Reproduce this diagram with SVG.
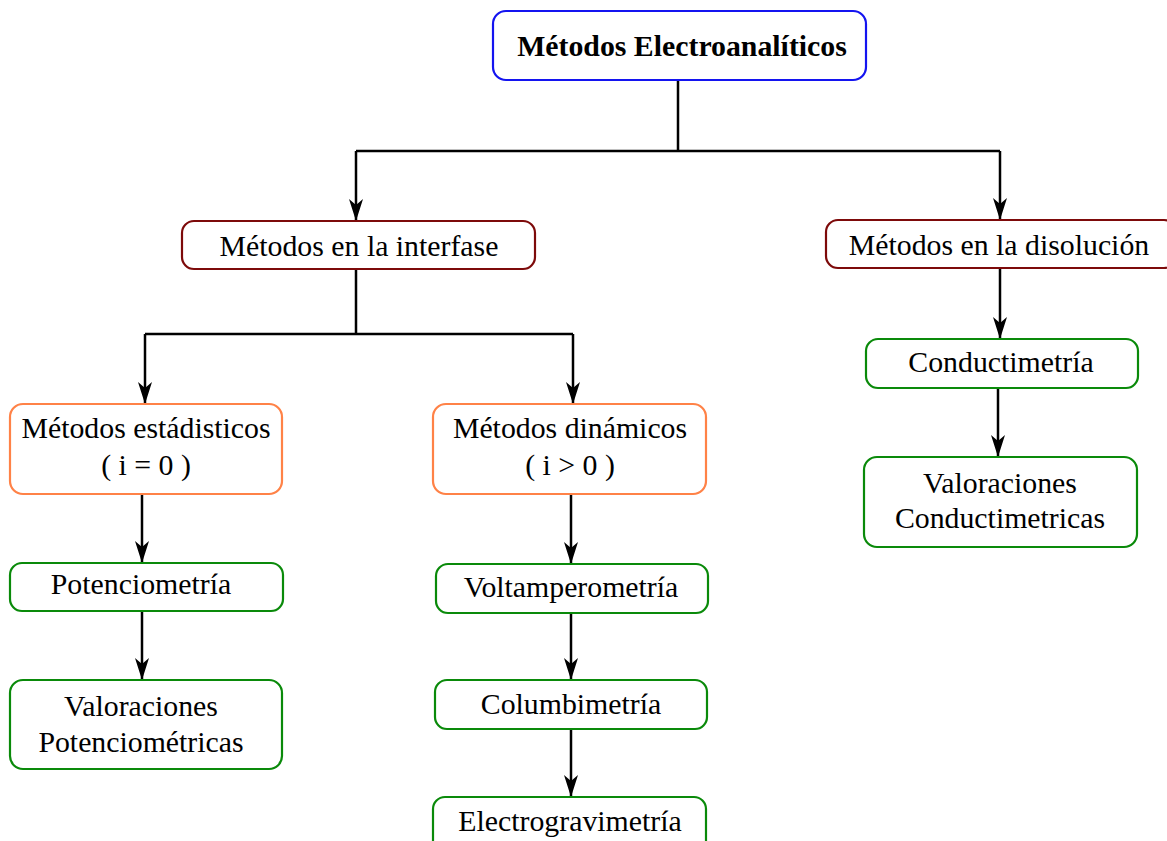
<svg xmlns="http://www.w3.org/2000/svg" width="1167" height="841" viewBox="0 0 1167 841">
  <defs>
    <marker id="arrow" markerUnits="userSpaceOnUse" markerWidth="24" markerHeight="16" refX="0" refY="0" viewBox="-22 -8 24 16" orient="auto" overflow="visible">
      <path d="M0,0 L-22,-7 L-16,0 L-22,7 Z" fill="#000"/>
    </marker>
    <style>
      .box { fill: #fff; stroke-width: 2.2; }
      .root { stroke: #1414f0; }
      .level1 { stroke: #7d0a0a; }
      .level2 { stroke: #ff8247; }
      .leaf { stroke: #0a8a0a; }
      .label { font-family: "Liberation Serif", "Times New Roman", serif; font-size: 29.8px; fill: #000; text-anchor: middle; }
      .title { font-weight: bold; font-size: 29.8px; }
      .wire { fill: none; stroke: #000; stroke-width: 2.5; }
      .arrow { fill: none; stroke: #000; stroke-width: 2.5; marker-end: url(#arrow); }
    </style>
  </defs>

  <rect width="1167" height="841" fill="#fff"/>

  <!-- connectors -->
  <g id="connectors">
    <path class="wire" d="M678,80 V151 M356,151 H1000"/>
    <path class="arrow" d="M356,151 V221"/>
    <path class="arrow" d="M1000,151 V220"/>
    <path class="wire" d="M356,269 V334 M145,334 H573"/>
    <path class="arrow" d="M145,334 V404"/>
    <path class="arrow" d="M573,334 V404"/>
    <path class="arrow" d="M142,494 V563"/>
    <path class="arrow" d="M142,611 V680"/>
    <path class="arrow" d="M571,494 V564"/>
    <path class="arrow" d="M571,613 V680"/>
    <path class="arrow" d="M571,729 V797"/>
    <path class="arrow" d="M1000,268 V339"/>
    <path class="arrow" d="M998,388 V457"/>
  </g>

  <g id="electroanaliticos">
    <rect class="box root" x="493" y="11" width="373" height="69" rx="13"/>
    <text class="label title" x="682" y="56">Métodos Electroanalíticos</text>
  </g>

  <g id="interfase">
    <rect class="box level1" x="182" y="221" width="353" height="48" rx="12"/>
    <text class="label" x="359" y="256">Métodos en la interfase</text>
  </g>

  <g id="disolucion">
    <rect class="box level1" x="826" y="220" width="350" height="48" rx="12"/>
    <text class="label" x="999" y="255">Métodos en la disolución</text>
  </g>

  <g id="estadisticos">
    <rect class="box level2" x="10" y="404" width="272" height="90" rx="13"/>
    <text class="label" x="146" y="438">Métodos estádisticos</text>
    <text class="label" x="146" y="475">( i = 0 )</text>
  </g>

  <g id="dinamicos">
    <rect class="box level2" x="433" y="404" width="273" height="90" rx="13"/>
    <text class="label" x="570" y="438">Métodos dinámicos</text>
    <text class="label" x="570" y="475">( i &gt; 0 )</text>
  </g>

  <g id="potenciometria">
    <rect class="box leaf" x="10" y="563" width="273" height="48" rx="12"/>
    <text class="label" x="141" y="594">Potenciometría</text>
  </g>

  <g id="valoraciones-potenciometricas">
    <rect class="box leaf" x="10" y="680" width="272" height="89" rx="13"/>
    <text class="label" x="141" y="716">Valoraciones</text>
    <text class="label" x="141" y="752">Potenciométricas</text>
  </g>

  <g id="voltamperometria">
    <rect class="box leaf" x="436" y="564" width="272" height="49" rx="12"/>
    <text class="label" x="571" y="597">Voltamperometría</text>
  </g>

  <g id="columbimetria">
    <rect class="box leaf" x="435" y="680" width="272" height="49" rx="12"/>
    <text class="label" x="571" y="714">Columbimetría</text>
  </g>

  <g id="electrogravimetria">
    <rect class="box leaf" x="433" y="797" width="273" height="60" rx="12"/>
    <text class="label" x="570" y="831">Electrogravimetría</text>
  </g>

  <g id="conductimetria">
    <rect class="box leaf" x="866" y="339" width="272" height="49" rx="12"/>
    <text class="label" x="1001" y="372">Conductimetría</text>
  </g>

  <g id="valoraciones-conductimetricas">
    <rect class="box leaf" x="864" y="457" width="273" height="90" rx="13"/>
    <text class="label" x="1000" y="493">Valoraciones</text>
    <text class="label" x="1000" y="528">Conductimetricas</text>
  </g>
</svg>
